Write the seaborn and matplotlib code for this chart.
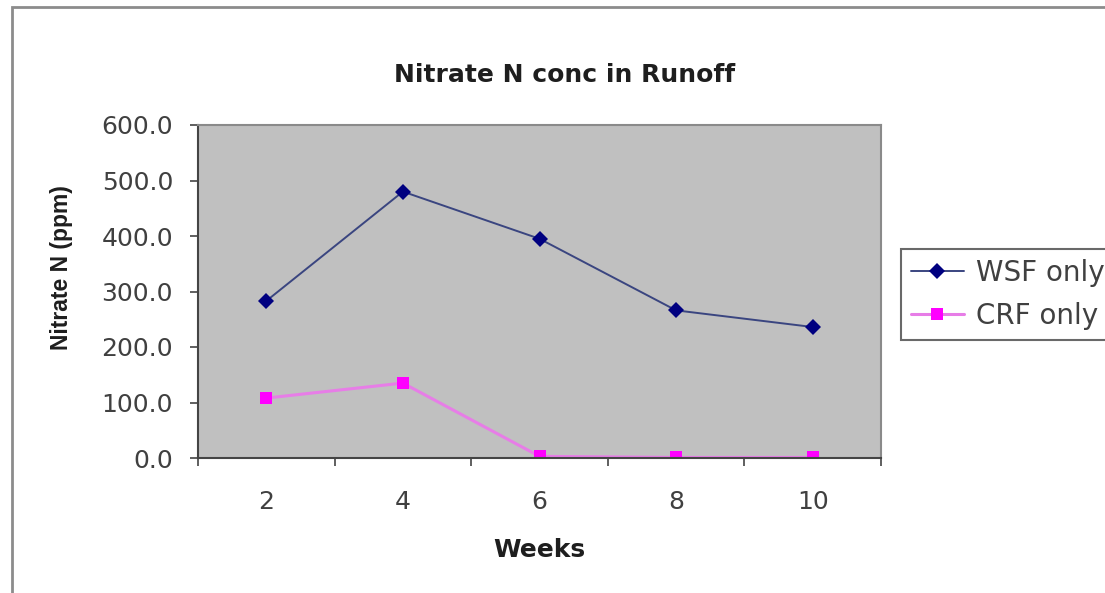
import numpy as np
import pandas as pd
import matplotlib
matplotlib.use("Agg")
import matplotlib.pyplot as plt
from matplotlib.patches import Rectangle
import seaborn as sns

# values
weeks = ["2", "4", "6", "8", "10"]
wsf_only = [283, 480, 395, 266, 236]
crf_only = [108, 135, 3, 1, 1]
series_names = ["WSF only", "CRF only"]

df = pd.DataFrame({
    "Weeks": weeks * 2,
    "Nitrate": wsf_only + crf_only,
    "Series": [series_names[0]] * len(weeks) + [series_names[1]] * len(weeks),
})

sns.set_style("white")
plt.rcParams["font.family"] = ["DejaVu Sans"]

marker_colors = {"WSF only": "#000080", "CRF only": "#FF00FF"}
line_colors = {"WSF only": "#3A4580", "CRF only": "#E77DE7"}
line_widths = {"WSF only": 1.4, "CRF only": 2.2}
markers = {"WSF only": "D", "CRF only": "s"}

fig = plt.figure(figsize=(11.05, 5.93), dpi=100)
# plot area: x 198..881, y 125..458 (pixels)
ax = fig.add_axes([198 / 1105, 1 - 458 / 593, (881 - 198) / 1105, (458 - 125) / 593])
ax.set_facecolor("#C0C0C0")

sns.lineplot(data=df, x="Weeks", y="Nitrate", hue="Series", style="Series",
             palette=line_colors, markers=markers, dashes=False, sort=False,
             markersize=8, markeredgewidth=0, ax=ax, legend=False)
for line, name in zip(ax.get_lines(), series_names):
    line.set_markerfacecolor(marker_colors[name])
    line.set_linewidth(line_widths[name])

ax.set_xlim(-0.5, len(weeks) - 0.5)
ax.set_ylim(0, 600)
yt = np.arange(0, 601, 100)
ax.set_yticks(yt)
ax.set_yticklabels([f"{v:.1f}" for v in yt])
ax.set_xticks(np.arange(len(weeks)))
ax.set_xticklabels(weeks)
ax.set_xticks(np.arange(len(weeks) + 1) - 0.5, minor=True)

ax.tick_params(axis="x", which="major", length=0, pad=23, labelsize=18, labelcolor="#404040")
ax.tick_params(axis="x", which="minor", length=6, width=1.2, color="#444444", direction="out", bottom=True)
ax.tick_params(axis="y", which="major", length=6, width=1.2, color="#444444", direction="out",
               left=True, labelsize=18, labelcolor="#404040", pad=12)

for side in ["top", "right"]:
    ax.spines[side].set_color("#8A8A8A")
    ax.spines[side].set_linewidth(1.5)
for side in ["left", "bottom"]:
    ax.spines[side].set_color("#444444")
    ax.spines[side].set_linewidth(1.5)

ax.set_xlabel("Weeks", fontsize=18, fontweight="bold", color="#1E1E1E")
ax.xaxis.set_label_coords((539 - 198) / 683, (458 - 550) / 333)
ax.xaxis.label.set_va("center")
ax.set_ylabel("Nitrate N (ppm)", fontsize=16.5, fontweight="bold", color="#1E1E1E",
              family="Liberation Sans")
ax.yaxis.set_label_coords((62 - 198) / 683, (458 - 268) / 333)
ax.yaxis.label.set_va("center")

fig.text(565 / 1105, 1 - 75 / 593, "Nitrate N conc in Runoff", ha="center", va="center",
         fontsize=18, fontweight="bold", color="#1E1E1E")

# legend built from the same series styles
handles = [plt.Line2D([], [], color=line_colors[n], marker=markers[n], markersize=8,
                      markeredgewidth=0, markerfacecolor=marker_colors[n],
                      linewidth=line_widths[n])
           for n in series_names]
leg = fig.legend(handles, series_names, loc="upper left",
                 bbox_to_anchor=(901 / 1105, 1 - 249 / 593), frameon=True, fancybox=False,
                 fontsize=20, handlelength=1.9, handletextpad=0.45, borderpad=0.35,
                 borderaxespad=0, labelspacing=0.55, edgecolor="#444444")
leg.get_frame().set_linewidth(1.5)
for t in leg.get_texts():
    t.set_color("#404040")

# outer chart border
fig.patches.append(Rectangle((12 / 1105, -0.05), 1.2, 1 - 7 / 593 + 0.05, transform=fig.transFigure,
                             fill=False, edgecolor="#8C8C8C", linewidth=2))

fig.savefig("out.png", dpi=100)
